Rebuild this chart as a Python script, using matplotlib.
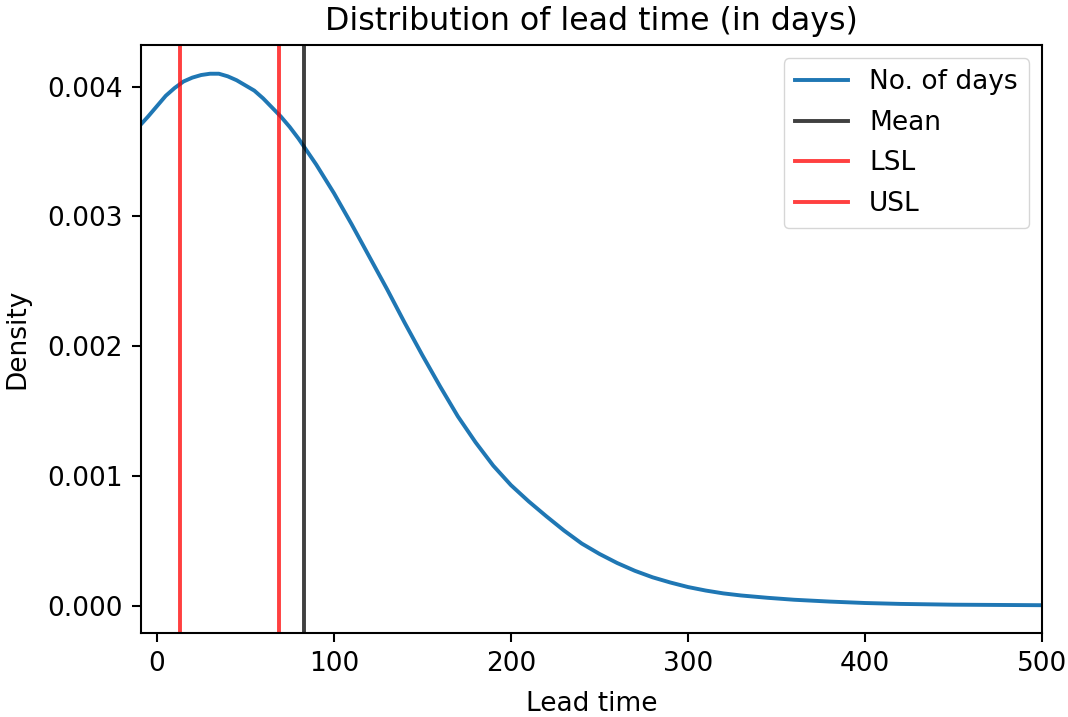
import matplotlib
matplotlib.use("Agg")
import matplotlib.pyplot as plt

# Density curve
lead_days = [-9, -5, 0, 5, 10, 15, 20, 25, 30, 35, 40, 45, 50, 55, 60, 65, 70, 75,
             80, 83, 90, 100, 110, 120, 130, 140, 150, 160, 170, 180, 190, 200,
             210, 220, 230, 240, 250, 260, 270, 280, 290, 300, 310, 320, 330, 345,
             360, 380, 400, 420, 450, 500]
density = [0.00371, 0.00377, 0.00385, 0.00393, 0.00399, 0.00404, 0.00407, 0.00409,
           0.00410, 0.00410, 0.00408, 0.00405, 0.00401, 0.00397, 0.00391, 0.00384,
           0.00377, 0.00369, 0.00360, 0.00354, 0.00340, 0.00318, 0.00294, 0.00269,
           0.00244, 0.00218, 0.00193, 0.00169, 0.00146, 0.00126, 0.00108, 0.00093,
           0.000805, 0.00069, 0.00058, 0.00048, 0.00040, 0.00033, 0.00027, 0.00022,
           0.00018, 0.000145, 0.000118, 0.000096, 0.000080, 0.000062, 0.000047,
           0.000033, 0.000022, 0.000015, 0.000009, 0.000005]

mean_val = 83
lsl_val = 13
usl_val = 69

S = 2.6 * 0.72
plt.rcParams.update({
    "font.size": 19,
    "axes.linewidth": 0.8 * S,
    "xtick.major.width": 0.8 * S,
    "ytick.major.width": 0.8 * S,
    "xtick.major.size": 3.5 * S,
    "ytick.major.size": 3.5 * S,
    "xtick.major.pad": 3.5 * S,
    "ytick.major.pad": 3.5 * S,
})

fig = plt.figure(figsize=(10.68, 7.17), dpi=100)
ax = fig.add_axes([0.132, 0.117, 0.9757 - 0.132, 0.937 - 0.117])

lw = 1.5 * S
ax.plot(lead_days, density, color="#1f77b4", lw=lw, label="No. of days")
ax.axvline(mean_val, color="black", alpha=0.75, lw=lw, label="Mean")
ax.axvline(lsl_val, color="red", alpha=0.75, lw=lw, label="LSL")
ax.axvline(usl_val, color="red", alpha=0.75, lw=lw, label="USL")

ax.set_xlim(-9, 500)
ax.set_ylim(-0.00021, 0.00432)
ax.set_xticks([0, 100, 200, 300, 400, 500])
ax.set_yticks([0.000, 0.001, 0.002, 0.003, 0.004])
ax.set_yticklabels(["0.000", "0.001", "0.002", "0.003", "0.004"])
ax.set_xlabel("Lead time", labelpad=10)
ax.set_ylabel("Density", labelpad=12)
ax.set_title("Distribution of lead time (in days)", pad=11)
ax.legend(loc="upper right", handlelength=2.0, borderpad=0.42, labelspacing=0.55,
          handletextpad=0.8)

fig.savefig("out.png", dpi=100)
